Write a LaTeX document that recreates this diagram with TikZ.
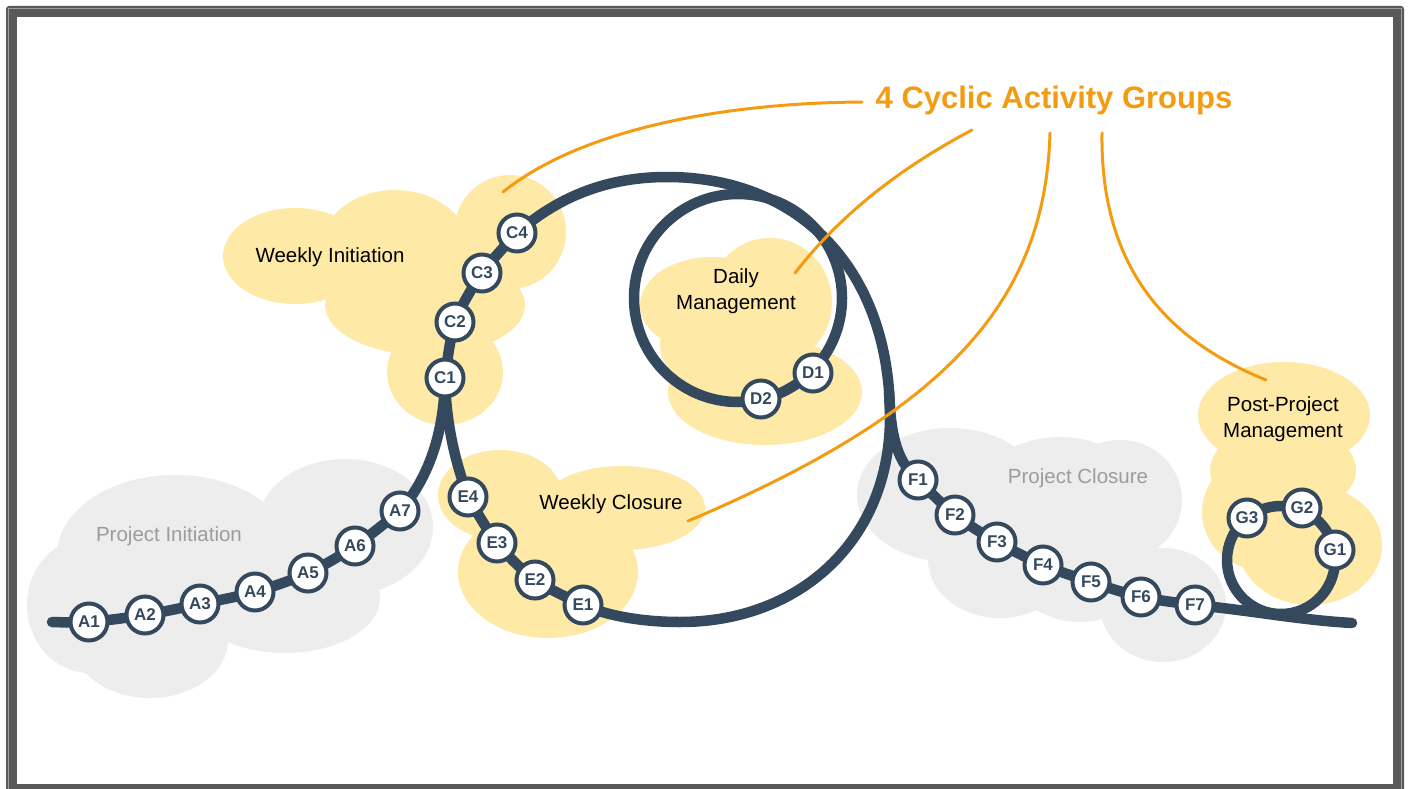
\documentclass[tikz,border=0pt]{standalone}
\usepackage{fontspec}
\setmainfont{Liberation Sans}
\definecolor{navy}{HTML}{34495E}
\definecolor{cloudY}{HTML}{FFE9A6}
\definecolor{cloudG}{HTML}{EDEDED}
\definecolor{orng}{HTML}{F39C12}
\definecolor{labelgray}{HTML}{9C9C9C}
\definecolor{framegray}{HTML}{595959}
\pgfdeclarelayer{cloudlayer}
\pgfdeclarelayer{linelayer}
\pgfdeclarelayer{calloutlayer}
\pgfsetlayers{cloudlayer,linelayer,calloutlayer,main}
\begin{document}
\begin{tikzpicture}[x=1pt,y=-1pt,
  stn/.style={circle, draw=navy, line width=4pt, fill=white, minimum size=37pt, inner sep=0pt,
    font=\fontsize{17}{17}\selectfont\bfseries, text=navy},
  track/.style={draw=navy, line width=10.5pt, line cap=round, line join=round},
  callout/.style={draw=orng, line width=3pt, line cap=round},
  ylw/.style={fill=cloudY},
  gry/.style={fill=cloudG},
  lbl/.style={font=\fontsize{20.5}{26}\selectfont, text=black, align=center},
  glbl/.style={font=\fontsize{20.5}{26}\selectfont, text=labelgray},
]
\useasboundingbox (0,0) rectangle (1410,789);

% ---------- frame and clouds ----------
\begin{pgfonlayer}{cloudlayer}
\fill[framegray, rounded corners=3pt] (6,6) rectangle (1404,800);
\draw[gray!75, line width=1pt] (8.5,8.5) rectangle (1401.5,800);
\fill[white] (17,17) rectangle (1393,784);

% Project Initiation
\fill[gry] (175,555) ellipse[x radius=118pt, y radius=80pt];
\fill[gry] (345,527) ellipse[x radius=88pt, y radius=68pt];
\fill[gry] (90,605) ellipse[x radius=63pt, y radius=68pt];
\fill[gry] (150,640) ellipse[x radius=78pt, y radius=58pt];
\fill[gry] (285,598) ellipse[x radius=95pt, y radius=55pt];
% Project Closure
\fill[gry] (950,495) ellipse[x radius=93pt, y radius=67pt];
\fill[gry] (1060,500) ellipse[x radius=85pt, y radius=63pt];
\fill[gry] (1120,500) ellipse[x radius=62pt, y radius=60pt];
\fill[gry] (1000,560) ellipse[x radius=72pt, y radius=58pt];
\fill[gry] (1080,565) ellipse[x radius=70pt, y radius=57pt];
\fill[gry] (1163,605) ellipse[x radius=63pt, y radius=57pt];
% Weekly Initiation
\fill[ylw] (295,256) ellipse[x radius=72pt, y radius=48pt];
\fill[ylw] (395,250) ellipse[x radius=75pt, y radius=60pt];
\fill[ylw] (510,232) ellipse[x radius=56pt, y radius=57pt];
\fill[ylw] (425,305) ellipse[x radius=100pt, y radius=50pt];
\fill[ylw] (445,372) ellipse[x radius=58pt, y radius=53pt];
% Daily Management
\fill[ylw] (712,305) ellipse[x radius=72pt, y radius=48pt];
\fill[ylw] (770,302) ellipse[x radius=62pt, y radius=64pt];
\fill[ylw] (765,392) ellipse[x radius=97pt, y radius=53pt];
\fill[ylw] (735,345) ellipse[x radius=75pt, y radius=50pt];
% Weekly Closure
\fill[ylw] (500,495) ellipse[x radius=62pt, y radius=45pt];
\fill[ylw] (622,508) ellipse[x radius=83pt, y radius=42pt];
\fill[ylw] (548,572) ellipse[x radius=90pt, y radius=66pt];
% Post-Project Management
\fill[ylw] (1284,415) ellipse[x radius=86pt, y radius=53pt];
\fill[ylw] (1283,470) ellipse[x radius=73pt, y radius=45pt];
\fill[ylw] (1262,512) ellipse[x radius=60pt, y radius=58pt];
\fill[ylw] (1310,545) ellipse[x radius=72pt, y radius=60pt];
\end{pgfonlayer}

% ---------- labels ----------
\node[glbl] (lPI) at (169,536) {Project Initiation};
\node[lbl] (lWI) at (330,257) {Weekly Initiation};
\node[lbl] (lDM) at (736,291) {Daily\\Management};
\node[lbl] (lWC) at (611,504) {Weekly Closure};
\node[glbl] (lPC) at (1078,478) {Project Closure};
\node[lbl] (lPP) at (1283,419) {Post-Project\\Management};
\node[font=\fontsize{31}{31}\selectfont\bfseries, text=orng] (title) at (1054,100) {4 Cyclic Activity Groups};

% ---------- stations ----------
\node[stn] (A1) at (89,622) {A1};
\node[stn] (A2) at (145,615) {A2};
\node[stn] (A3) at (200,604) {A3};
\node[stn] (A4) at (255,592) {A4};
\node[stn] (A5) at (308,573) {A5};
\node[stn] (A6) at (355,546) {A6};
\node[stn] (A7) at (400,511) {A7};
\node[stn] (C1) at (445,378) {C1};
\node[stn] (C2) at (455,322) {C2};
\node[stn] (C3) at (482,273) {C3};
\node[stn] (C4) at (517,233) {C4};
\node[stn] (D1) at (813,373) {D1};
\node[stn] (D2) at (761,399) {D2};
\node[stn] (E1) at (583,605) {E1};
\node[stn] (E2) at (535,580) {E2};
\node[stn] (E3) at (497,543) {E3};
\node[stn] (E4) at (468,497) {E4};
\node[stn] (F1) at (918,480) {F1};
\node[stn] (F2) at (955,515) {F2};
\node[stn] (F3) at (997,542) {F3};
\node[stn] (F4) at (1043,565) {F4};
\node[stn] (F5) at (1091,582) {F5};
\node[stn] (F6) at (1141,597) {F6};
\node[stn] (F7) at (1195,605) {F7};
\node[stn] (G1) at (1335,550) {G1};
\node[stn] (G2) at (1302,508) {G2};
\node[stn] (G3) at (1247,518) {G3};

% ---------- track ----------
\coordinate (st) at (52,622);
\coordinate (fin) at (1352,623);
\coordinate (dc) at (738,298);
\coordinate (gc) at (1281,560);
\coordinate (otop) at (667,177);
\coordinate (oright) at (890,417);
\coordinate (obot) at (680,622);
\coordinate (fork) at (889,392);
\begin{pgfonlayer}{linelayer}
% project initiation
\draw[track] plot[smooth, tension=0.5] coordinates {
  (st) (A1.center) (A2.center) (A3.center) (A4.center) (A5.center) (A6.center) (A7.center)};
\draw[track] (A7.center) .. controls (425,482) and (444,440) .. (C1.center);
% weekly initiation and the weekly loop
\draw[track] plot[smooth, tension=0.5] coordinates {
  (C1.center) (C2.center) (C3.center) (C4.center)};
\draw[track] (C4.center) .. controls (560,195) and (610,177) .. (otop)
  .. controls (800,177) and (890,270) .. (oright)
  .. controls (890,540) and (800,622) .. (obot)
  .. controls (640,622) and (605,615) .. (E1.center);
% weekly closure
\draw[track] plot[smooth, tension=0.5] coordinates {
  (E1.center) (E2.center) (E3.center) (E4.center)};
\draw[track] (E4.center) .. controls (453,455) and (446,420) .. (C1.center);
% daily loop
\draw[track] (dc) circle[radius=104pt];
% project closure
\draw[track] (fork) .. controls (891,440) and (898,462) .. (F1.center);
\draw[track] plot[smooth, tension=0.5] coordinates {
  (F1.center) (F2.center) (F3.center) (F4.center)
  (F5.center) (F6.center) (F7.center)};
\draw[track] (F7.center) .. controls (1255,611) and (1300,620) .. (fin);
% post-project loop
\draw[track] (gc) circle[radius=54pt];
\end{pgfonlayer}

% ---------- callouts ----------
\begin{pgfonlayer}{calloutlayer}
\coordinate (k1) at (862,102);
\coordinate (k2) at (972,130);
\coordinate (k3) at (1050,133);
\coordinate (k4) at (1102,133);
\coordinate (t1) at (503,192);
\coordinate (t2) at (795,273);
\coordinate (t3) at (688,521);
\coordinate (t4) at (1266,380);
\draw[callout] (k1) .. controls (720,103) and (580,130) .. (t1);
\draw[callout] (k2) .. controls (900,168) and (840,215) .. (t2);
\draw[callout] (k3) .. controls (1045,300) and (950,410) .. (t3);
\draw[callout] (k4) .. controls (1100,280) and (1180,345) .. (t4);
\end{pgfonlayer}
\end{tikzpicture}
\end{document}
